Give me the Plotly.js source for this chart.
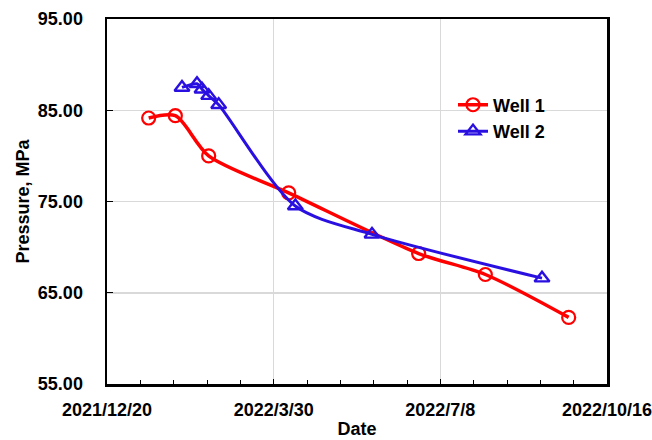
<!DOCTYPE html>
<html>
<head>
<meta charset="utf-8">
<script src="https://cdn.plot.ly/plotly-3.0.1.min.js"></script>
<style>
  html, body { margin: 0; padding: 0; background: #fff; }
  #chart { width: 652px; height: 440px; }
</style>
</head>
<body>
<div id="chart"></div>
<script>
// Pressure measurements per well
const well1Dates = ['2022-01-14', '2022-01-30', '2022-02-19', '2022-04-08', '2022-06-25', '2022-08-04', '2022-09-23'];
const well1Pressure = [84.15, 84.4, 80.0, 75.95, 69.3, 67.0, 62.3];

const well2Dates = ['2022-02-03', '2022-02-12', '2022-02-15', '2022-02-19', '2022-02-25', '2022-04-12', '2022-05-28', '2022-09-07'];
const well2Pressure = [87.5, 87.9, 87.3, 86.6, 85.6, 74.5, 71.4, 66.6];

const seriesNames = ['Well 1', 'Well 2'];
const xRange = ['2021-12-20', '2022-10-16'];
const yRange = [55, 95];

const DAY = 86400000;
const labelFont = { family: 'Arial, "Liberation Sans", sans-serif', size: 18, color: '#000', weight: 'bold' };

const traces = [
  {
    x: well1Dates, y: well1Pressure, name: seriesNames[0],
    type: 'scatter', mode: 'lines+markers',
    line: { color: '#FF0000', width: 3.5, shape: 'spline', smoothing: 0.8 },
    marker: { symbol: 'circle-open', size: 13, color: '#FF0000', line: { width: 2.2, color: '#FF0000' } }
  },
  {
    x: well2Dates, y: well2Pressure, name: seriesNames[1],
    type: 'scatter', mode: 'lines+markers',
    line: { color: '#2A10E0', width: 3, shape: 'spline', smoothing: 0.8 },
    marker: { symbol: 'triangle-up-open', size: 13, color: '#2A10E0', line: { width: 2.4, color: '#2A10E0' } }
  }
];

const layout = {
  width: 652, height: 440,
  margin: { l: 107, r: 45, t: 19, b: 56 },
  paper_bgcolor: '#fff', plot_bgcolor: '#fff',
  showlegend: true,
  legend: {
    x: 0.692, y: 0.815, xanchor: 'left', yanchor: 'top',
    font: labelFont, bgcolor: 'rgba(0,0,0,0)',
    itemwidth: 30, tracegroupgap: 0
  },
  xaxis: {
    type: 'date', range: xRange,
    tick0: xRange[0], dtick: 100 * DAY, tickformat: '%Y/%-m/%-d',
    ticks: 'inside', ticklen: 5, tickwidth: 1, tickcolor: '#000',
    showline: true, linecolor: '#000', linewidth: 2.5, mirror: true,
    showgrid: true, gridcolor: '#D9D9D9', gridwidth: 1.5,
    zeroline: false,
    tickfont: labelFont, ticklabelstandoff: 8, ticklabeloverflow: 'allow',
    minor: { dtick: 20 * DAY, tick0: xRange[0], ticks: 'inside', ticklen: 4, tickcolor: '#000', showgrid: false },
    title: { text: 'Date', font: labelFont, standoff: 4 }
  },
  yaxis: {
    range: yRange, tick0: 55, dtick: 10, tickformat: '.2f',
    ticks: 'inside', ticklen: 6, tickwidth: 1, tickcolor: '#000',
    showline: true, linecolor: '#000', linewidth: 2.5, mirror: true,
    showgrid: true, gridcolor: '#D9D9D9', gridwidth: 1.5,
    zeroline: false,
    tickfont: labelFont, ticklabelstandoff: 18,
    title: { text: 'Pressure, MPa', font: labelFont, standoff: 4 }
  }
};

Plotly.newPlot('chart', traces, layout, { displayModeBar: false, staticPlot: true });
</script>
</body>
</html>
